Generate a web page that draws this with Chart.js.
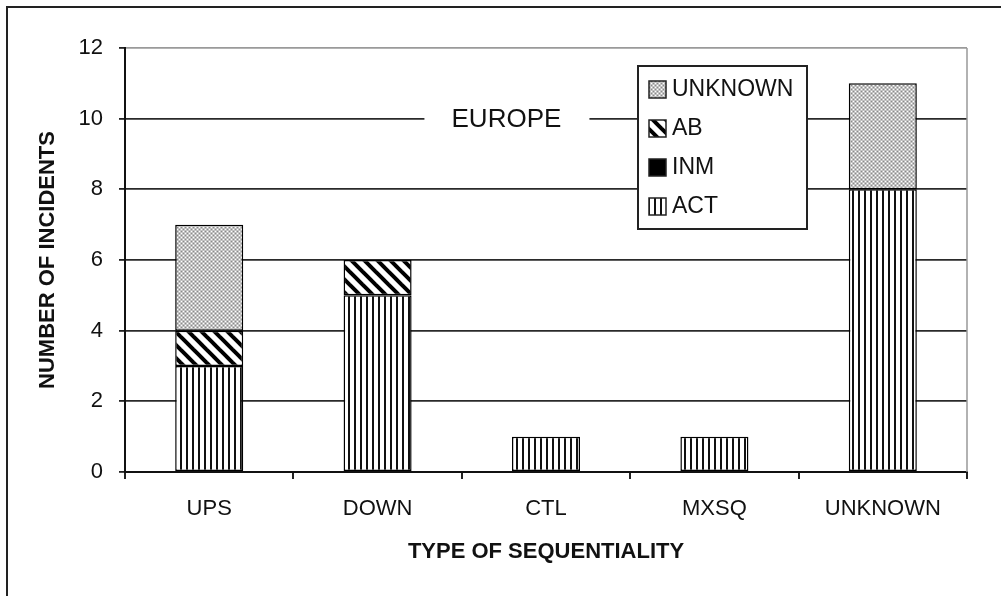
<!DOCTYPE html>
<html>
<head>
<meta charset="utf-8">
<script src="https://cdn.jsdelivr.net/npm/chart.js@4"></script>
<style>
  html, body { margin: 0; padding: 0; background: #fff; }
  canvas { display: block; }
</style>
</head>
<body>
<canvas id="myChart" width="1001" height="596"></canvas>
<script>
// Data
const categories = ['UPS', 'DOWN', 'CTL', 'MXSQ', 'UNKNOWN'];
const actValues = [3, 5, 1, 1, 8];
const inmValues = [0, 0, 0, 0, 0];
const abValues = [1, 1, 0, 0, 0];
const unknownValues = [3, 0, 0, 0, 3];
const yTicks = [0, 2, 4, 6, 8, 10, 12];

const FONT = '"Liberation Sans", Arial, sans-serif';

// Hatch patterns like the old black & white Excel fills
function makePattern(w, h, draw) {
    const c = document.createElement('canvas');
    c.width = w;
    c.height = h;
    const g = c.getContext('2d');
    g.fillStyle = '#fff';
    g.fillRect(0, 0, w, h);
    draw(g, w, h);
    return document.getElementById('myChart').getContext('2d').createPattern(c, 'repeat');
}

const actFill = makePattern(6, 6, (g, w, h) => {
    g.fillStyle = '#111';
    g.fillRect(0, 0, 2, h);
});

const abFill = makePattern(13, 13, (g, s) => {
    g.strokeStyle = '#000';
    g.lineWidth = 4;
    for (let k = -1; k <= 1; k++) {
        g.beginPath();
        g.moveTo(k * s - 2, -2);
        g.lineTo(k * s + s + 2, s + 2);
        g.stroke();
    }
});

const unknownFill = makePattern(4, 4, (g, w, h) => {
    g.fillStyle = '#c2c2c2';
    g.fillRect(0, 0, w, h);
    g.fillStyle = '#fff';
    g.fillRect(1, 1, 1, 1);
    g.fillRect(3, 3, 1, 1);
    g.fillStyle = '#8a8a8a';
    g.fillRect(1, 3, 1, 1);
    g.fillRect(3, 1, 1, 1);
});

const inmFill = '#000';

const borderFor = ctx => (ctx.raw ? 1.5 : 0);

function makeDataset(label, values, fill) {
    return {
        label: label,
        data: values,
        backgroundColor: fill,
        borderColor: '#000',
        borderWidth: borderFor,
        borderSkipped: false,
        barPercentage: 0.404,
        categoryPercentage: 1
    };
}

// Outer frame, plot frame, "EUROPE" label and the boxed legend
const decorations = {
    id: 'decorations',
    afterDraw(chart) {
        const ctx = chart.ctx;
        const area = chart.chartArea;
        const y = chart.scales.y;
        ctx.save();

        // figure frame (runs off the right and bottom edges)
        ctx.strokeStyle = '#222';
        ctx.lineWidth = 2;
        ctx.strokeRect(7, 7, 1010, 610);

        // right edge of the plot area
        ctx.strokeStyle = '#999';
        ctx.lineWidth = 1.5;
        ctx.beginPath();
        ctx.moveTo(area.right, area.top);
        ctx.lineTo(area.right, area.bottom);
        ctx.stroke();

        // EUROPE sits on the 10 gridline
        const ey = y.getPixelForValue(10);
        const ex = area.left + (area.right - area.left) * 0.453;
        ctx.fillStyle = '#fff';
        ctx.fillRect(ex - 82, ey - 3, 165, 6);
        ctx.fillStyle = '#111';
        ctx.font = '26px ' + FONT;
        ctx.textAlign = 'center';
        ctx.textBaseline = 'middle';
        ctx.fillText('EUROPE', ex, ey + 1);

        // legend box
        const lx = 638, ly = 66, lw = 169, lh = 163;
        ctx.fillStyle = '#fff';
        ctx.fillRect(lx, ly, lw, lh);
        ctx.strokeStyle = '#222';
        ctx.lineWidth = 2;
        ctx.strokeRect(lx, ly, lw, lh);

        const items = chart.data.datasets.slice().reverse();
        ctx.font = '23px ' + FONT;
        ctx.textAlign = 'left';
        items.forEach((ds, i) => {
            const cy = ly + 23 + i * 39;
            ctx.fillStyle = ds.backgroundColor;
            ctx.fillRect(lx + 11, cy - 8, 17, 17);
            ctx.strokeStyle = '#222';
            ctx.lineWidth = 1.5;
            ctx.strokeRect(lx + 11, cy - 8, 17, 17);
            ctx.fillStyle = '#111';
            ctx.fillText(ds.label, lx + 34, cy + 1);
        });

        ctx.restore();
    }
};

const ctx = document.getElementById('myChart').getContext('2d');
const chart = new Chart(ctx, {
    type: 'bar',
    data: {
        labels: categories,
        datasets: [
            makeDataset('ACT', actValues, actFill),
            makeDataset('INM', inmValues, inmFill),
            makeDataset('AB', abValues, abFill),
            makeDataset('UNKNOWN', unknownValues, unknownFill)
        ]
    },
    options: {
        responsive: false,
        animation: false,
        layout: {
            padding: { left: 35, right: 34, top: 48, bottom: 0 }
        },
        plugins: {
            legend: { display: false },
            tooltip: { enabled: false }
        },
        scales: {
            x: {
                stacked: true,
                afterFit: scale => { scale.height = 124; },
                grid: {
                    offset: true,
                    drawOnChartArea: false,
                    drawTicks: true,
                    tickLength: 7,
                    color: '#222',
                    lineWidth: 2
                },
                border: { display: true, color: '#111', width: 2 },
                ticks: {
                    color: '#111',
                    padding: 17,
                    font: { family: FONT, size: 22 }
                },
                title: {
                    display: true,
                    text: 'TYPE OF SEQUENTIALITY',
                    color: '#111',
                    padding: { top: 0, bottom: 31 },
                    font: { family: FONT, size: 22, weight: 'bold' }
                }
            },
            y: {
                stacked: true,
                min: yTicks[0],
                max: yTicks[yTicks.length - 1],
                afterFit: scale => { scale.width = 90; },
                afterBuildTicks: scale => {
                    scale.ticks = yTicks.map(v => ({ value: v }));
                },
                grid: {
                    color: c => (c.tick && c.tick.value === 12 ? '#9a9a9a' : '#2a2a2a'),
                    tickColor: '#222',
                    lineWidth: 1.8,
                    drawTicks: true,
                    tickLength: 6
                },
                border: { display: true, color: '#111', width: 2 },
                ticks: {
                    color: '#111',
                    padding: 16,
                    font: { family: FONT, size: 22 }
                },
                title: {
                    display: true,
                    text: 'NUMBER OF INCIDENTS',
                    color: '#111',
                    padding: 0,
                    font: { family: FONT, size: 22, weight: 'bold' }
                }
            }
        }
    },
    plugins: [decorations]
});
</script>
</body>
</html>
